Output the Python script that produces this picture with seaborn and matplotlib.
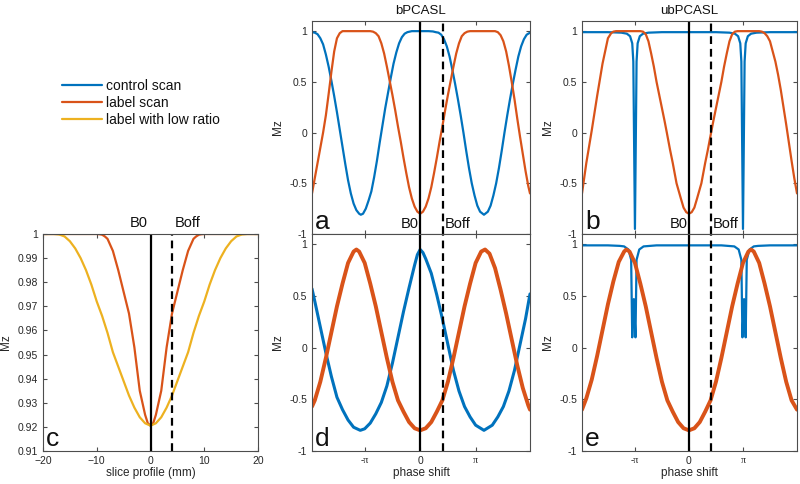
import numpy as np
import pandas as pd
import seaborn as sns
import matplotlib
matplotlib.use("Agg")
from matplotlib import pyplot as plt

BLUE = '#0072BD'
ORANGE = '#D95319'
YELLOW = '#EDB120'

# ---- panel a : bPCASL, x in units of pi ----
a_blue_x = [-1.95, -1.9, -1.85, -1.8, -1.75, -1.7, -1.65, -1.6, -1.55, -1.5, -1.45, -1.4, -1.35, -1.3,
            -1.25, -1.2, -1.15, -1.1, -1.07, -1.03, -0.98, -0.93, -0.88, -0.83, -0.78, -0.73, -0.68,
            -0.63, -0.58, -0.53, -0.48, -0.43, -0.38, -0.33, -0.28, -0.23, -0.15, 0.0, 0.15, 0.23, 0.28,
            0.33, 0.38, 0.43, 0.48, 0.53, 0.58, 0.63, 0.68, 0.73, 0.78, 0.83, 0.88, 0.93, 0.98, 1.03, 1.08,
            1.15, 1.22, 1.27, 1.32, 1.37, 1.42, 1.47, 1.52, 1.57, 1.62, 1.67, 1.72, 1.77, 1.82, 1.87, 1.92,
            1.98]
a_blue_y = [0.99, 0.985, 0.97, 0.93, 0.87, 0.77, 0.65, 0.51, 0.36, 0.2, 0.03, -0.14, -0.31, -0.47,
            -0.6, -0.7, -0.765, -0.8, -0.81, -0.8, -0.75, -0.67, -0.58, -0.44, -0.28, -0.1, 0.07,
            0.24, 0.39, 0.54, 0.68, 0.79, 0.88, 0.94, 0.975, 0.99, 1.0, 1.0, 1.0, 0.997, 0.99,
            0.985, 0.965, 0.92, 0.85, 0.75, 0.62, 0.48, 0.33, 0.17, 0.0, -0.18, -0.35, -0.5, -0.62, -0.72,
            -0.78, -0.81, -0.78, -0.72, -0.62, -0.5, -0.35, -0.18, 0.0, 0.17, 0.33, 0.48, 0.62, 0.75, 0.85,
            0.92, 0.965, 0.985]
a_orange_x = [-1.95, -1.9, -1.85, -1.8, -1.75, -1.7, -1.65, -1.6, -1.55, -1.5, -1.45, -1.4, -1.2, -1.0,
              -0.9, -0.85, -0.8, -0.75, -0.7, -0.65, -0.6, -0.55, -0.5, -0.45, -0.4, -0.35, -0.3, -0.25,
              -0.2, -0.15, -0.1, -0.05, 0.0, 0.05, 0.1, 0.15, 0.2, 0.25, 0.3, 0.35, 0.4, 0.45, 0.5, 0.55,
              0.6, 0.65, 0.7, 0.75, 0.8, 0.85, 0.9, 1.1, 1.35, 1.4, 1.45, 1.5, 1.55, 1.6, 1.65, 1.7, 1.75,
              1.8, 1.85, 1.9, 1.95, 1.98]
a_orange_y = [-0.6, -0.45, -0.3, -0.15, 0.0, 0.17, 0.38, 0.6, 0.8, 0.93, 0.98, 1.0, 1.0, 1.0,
              1.0, 0.995, 0.98, 0.95, 0.88, 0.78, 0.65, 0.51, 0.37, 0.22, 0.06, -0.09, -0.25, -0.4,
              -0.54, -0.65, -0.73, -0.78, -0.8, -0.78, -0.73, -0.65, -0.54, -0.4, -0.25, -0.09, 0.06, 0.22,
              0.37, 0.51, 0.65, 0.78, 0.88, 0.95, 0.98, 0.995, 1.0, 1.0, 1.0, 0.99, 0.96, 0.9, 0.8, 0.66,
              0.5, 0.33, 0.14, -0.04, -0.21, -0.38, -0.53, -0.6]

# ---- panel b : ubPCASL ----
b_blue_x = [-1.98, -1.5, -1.25, -1.15, -1.09, -1.05, -1.03, -1.0, -0.97, -0.95, -0.91, -0.85, -0.75, -0.5,
            0.0, 0.5, 0.75, 0.85, 0.91, 0.95, 0.97, 1.0, 1.03, 1.05, 1.09, 1.15, 1.25, 1.5, 2.0]
b_blue_y = [0.99, 0.99, 0.985, 0.975, 0.95, 0.88, 0.7, -0.95, 0.7, 0.88, 0.95, 0.975, 0.985, 0.99,
            0.99, 0.99, 0.985, 0.975, 0.95, 0.88, 0.7, -0.95, 0.7, 0.88, 0.95, 0.975, 0.985, 0.99, 0.99]
b_orange_x = [-1.98, -1.9, -1.8, -1.7, -1.6, -1.5, -1.44, -1.4, -1.35, -1.13, -0.9, -0.85, -0.8, -0.75,
              -0.7, -0.65, -0.6, -0.55, -0.5, -0.45, -0.41, -0.35, -0.3, -0.23, -0.15, -0.1, -0.05, 0.0,
              0.05, 0.1, 0.15, 0.23, 0.3, 0.35, 0.41, 0.45, 0.5, 0.55, 0.6, 0.65, 0.7, 0.75, 0.8, 0.85, 0.9,
              1.1, 1.3, 1.35, 1.4, 1.45, 1.5, 1.55, 1.6, 1.65, 1.7, 1.75, 1.8, 1.85, 1.9, 1.95, 2.0]
b_orange_y = [-0.6, -0.3, 0.02, 0.36, 0.68, 0.93, 0.98, 0.995, 1.0, 1.0, 1.0, 0.995, 0.97, 0.9,
              0.78, 0.65, 0.5, 0.37, 0.24, 0.11, 0.0, -0.17, -0.3, -0.5, -0.65, -0.74, -0.785, -0.8,
              -0.785, -0.74, -0.65, -0.5, -0.3, -0.17, 0.0, 0.11, 0.24, 0.37, 0.5, 0.65, 0.78, 0.9, 0.97, 0.995,
              1.0, 1.0, 1.0, 0.995, 0.98, 0.95, 0.9, 0.8, 0.7, 0.57, 0.42, 0.25, 0.08, -0.1, -0.28, -0.45, -0.6]

# ---- panel c : slice profile (mm) ----
c_label_x = [-20, -10, -9.5, -9, -8.5, -8, -7, -6, -5, -4, -3, -2, -1, -0.5, 0, 0.5, 1, 2, 3, 4, 5, 6, 7, 8,
             8.5, 9, 9.5, 10, 20]
c_label_y = [1.0, 1.0, 0.9999, 0.9997, 0.999, 0.998, 0.993, 0.985, 0.976, 0.967, 0.953, 0.935, 0.925,
             0.9215, 0.9205, 0.9215, 0.925, 0.935, 0.953, 0.967, 0.976, 0.985, 0.993, 0.998, 0.999,
             0.9997, 0.9999, 1.0, 1.0]
c_low_x = [-20, -18, -17, -16, -15, -14, -13, -12, -11, -10, -9, -8, -7, -6, -5, -4, -3, -2, -1, 0,
           1, 2, 3, 4, 5, 6, 7, 8, 9, 10, 11, 12, 13, 14, 15, 16, 17, 18, 20]
c_low_y = [1.0, 1.0, 0.9998, 0.999, 0.997, 0.994, 0.99, 0.985, 0.979, 0.972, 0.966, 0.959, 0.951, 0.945,
           0.939, 0.933, 0.928, 0.924, 0.9215, 0.9205, 0.9215, 0.924, 0.928, 0.933, 0.939, 0.945, 0.951,
           0.959, 0.966, 0.972, 0.979, 0.985, 0.99, 0.994, 0.997, 0.999, 0.9998, 1.0, 1.0]

# ---- panel d : bPCASL (bottom) ----
d_blue_x = [-1.95, -1.9, -1.8, -1.7, -1.6, -1.5, -1.4, -1.3, -1.2, -1.08, -1.0, -0.9, -0.8, -0.7, -0.6,
            -0.5, -0.4, -0.3, -0.2, -0.1, -0.05, 0.0, 0.05, 0.1, 0.2, 0.3, 0.4, 0.5, 0.6, 0.7, 0.8, 0.9, 1.0,
            1.15, 1.3, 1.4, 1.5, 1.6, 1.7, 1.8, 1.9, 1.98]
d_blue_y = [0.57, 0.45, 0.2, -0.05, -0.28, -0.48, -0.6, -0.7, -0.77, -0.8, -0.785, -0.73, -0.64, -0.53, -0.37,
            -0.15, 0.1, 0.35, 0.58, 0.8, 0.9, 0.95, 0.92, 0.86, 0.72, 0.51, 0.28, 0.03, -0.22, -0.42, -0.57,
            -0.67, -0.75, -0.8, -0.75, -0.67, -0.57, -0.42, -0.22, 0.03, 0.28, 0.52]
d_orange_x = [-1.95, -1.9, -1.8, -1.7, -1.6, -1.5, -1.4, -1.3, -1.2, -1.15, -1.1, -1.0, -0.9, -0.8, -0.7,
              -0.6, -0.5, -0.4, -0.3, -0.2, -0.1, 0.0, 0.1, 0.2, 0.3, 0.4, 0.5, 0.6, 0.7, 0.8, 0.9, 1.0, 1.1,
              1.17, 1.25, 1.35, 1.45, 1.55, 1.65, 1.75, 1.85, 1.95, 1.98]
d_orange_y = [-0.57, -0.51, -0.33, -0.1, 0.15, 0.4, 0.62, 0.82, 0.93, 0.95, 0.93, 0.82, 0.62, 0.4, 0.15,
              -0.1, -0.33, -0.51, -0.62, -0.72, -0.78, -0.8, -0.78, -0.72, -0.62, -0.51, -0.33, -0.1, 0.15,
              0.4, 0.62, 0.82, 0.93, 0.95, 0.91, 0.77, 0.56, 0.33, 0.08, -0.17, -0.39, -0.56, -0.6]

# ---- panel e : ubPCASL (bottom) ----
e_blue_x = [-1.98, -1.5, -1.28, -1.2, -1.12, -1.07, -1.05, -1.02, -0.99, -0.97, -0.92, -0.84, -0.6, 0.0,
            0.6, 0.84, 0.92, 0.97, 0.99, 1.02, 1.05, 1.07, 1.12, 1.2, 1.28, 1.5, 2.0]
e_blue_y = [0.99, 0.99, 0.985, 0.98, 0.95, 0.85, 0.1, 0.47, 0.1, 0.85, 0.95, 0.98, 0.99, 0.99,
            0.99, 0.98, 0.95, 0.85, 0.1, 0.47, 0.1, 0.85, 0.95, 0.98, 0.985, 0.99, 0.99]
e_orange_x = [-1.98, -1.9, -1.8, -1.7, -1.6, -1.5, -1.4, -1.3, -1.2, -1.16, -1.1, -1.0, -0.9, -0.8, -0.7,
              -0.6, -0.5, -0.4, -0.3, -0.2, -0.1, 0.0, 0.1, 0.2, 0.3, 0.4, 0.5, 0.6, 0.7, 0.8, 0.9, 1.0, 1.1,
              1.15, 1.2, 1.3, 1.4, 1.5, 1.6, 1.7, 1.8, 1.9, 2.0]
e_orange_y = [-0.6, -0.49, -0.31, -0.08, 0.17, 0.42, 0.64, 0.83, 0.93, 0.95, 0.93, 0.82, 0.62, 0.4, 0.15,
              -0.1, -0.33, -0.51, -0.62, -0.72, -0.78, -0.8, -0.78, -0.72, -0.62, -0.51, -0.33, -0.1, 0.15,
              0.4, 0.62, 0.82, 0.93, 0.95, 0.93, 0.82, 0.62, 0.4, 0.15, -0.1, -0.33, -0.51, -0.6]

phase_ticks = [-1, 0, 1]
phase_ticklabels = ['-\u03c0', '0', '\u03c0']
mz_ticks = [-1, -0.5, 0, 0.5, 1]
mz_ticklabels = ['-1', '-0.5', '0', '0.5', '1']
c_xticks = [-20, -10, 0, 10, 20]
c_yticks = [0.91, 0.92, 0.93, 0.94, 0.95, 0.96, 0.97, 0.98, 0.99, 1.0]
c_yticklabels = ['0.91', '0.92', '0.93', '0.94', '0.95', '0.96', '0.97', '0.98', '0.99', '1']

sns.set_theme(style="ticks", rc={
    'axes.edgecolor': '#4d4d4d', 'axes.linewidth': 0.8,
    'xtick.color': '#4d4d4d', 'ytick.color': '#4d4d4d',
    'xtick.labelcolor': '#262626', 'ytick.labelcolor': '#262626',
    'xtick.direction': 'in', 'ytick.direction': 'in',
    'xtick.major.size': 3, 'ytick.major.size': 3,
    'xtick.major.width': 0.8, 'ytick.major.width': 0.8,
    'xtick.top': True, 'ytick.right': True,
    'xtick.labelsize': 7.5, 'ytick.labelsize': 7.5,
    'axes.labelsize': 8.5, 'axes.titlesize': 9.5,
    'axes.labelcolor': '#262626', 'text.color': '#111111',
})
plt.rcParams['font.family'] = ['Liberation Sans', 'DejaVu Sans']

fig = plt.figure(figsize=(8, 4.84), dpi=100)
W, H = 800.0, 484.0


def box(x0, y0, x1, y1):
    return [x0 / W, 1 - y1 / H, (x1 - x0) / W, (y1 - y0) / H]


ax_a = fig.add_axes(box(312, 21, 530, 234))
ax_d = fig.add_axes(box(312, 234, 530, 451))
ax_b = fig.add_axes(box(582, 21, 797, 234))
ax_e = fig.add_axes(box(582, 234, 797, 451))
ax_c = fig.add_axes(box(43, 234, 258, 451))


def curve(ax, x, y, color, lw):
    sns.lineplot(x=x, y=y, ax=ax, color=color, linewidth=lw, estimator=None, sort=False)
    return ax.lines[-1]


def phase_panel(ax, xlim, boff, letter, bottom, labels_b0=True):
    ax.set_xlim(xlim)
    ax.set_ylim(-1, 1.1)
    ax.set_yticks(mz_ticks)
    ax.set_yticklabels(mz_ticklabels)
    ax.set_xticks(phase_ticks)
    if bottom:
        ax.set_xticklabels(phase_ticklabels)
        for t in ax.get_xticklabels():
            if t.get_text() != '0':
                t.set_fontfamily(['Liberation Serif', 'DejaVu Serif'])
                t.set_fontsize(7)
        ax.set_xlabel('phase shift', labelpad=1)
    else:
        ax.set_xticklabels([])
    ax.axvline(0, color='black', lw=1.6)
    ax.axvline(boff, color='black', lw=1.6, ls=(0, (3.5, 2.2)))
    ax.set_ylabel('Mz', labelpad=4)
    ax.text(0.015, 0.0, letter, transform=ax.transAxes, fontsize=19, va='bottom', ha='left')
    if labels_b0:
        ax.text(-0.03, -0.9, 'B0', fontsize=10.5, ha='right', va='center')
        ax.text(boff + 0.03, -0.9, 'Boff', fontsize=10.5, ha='left', va='center')


# panel a
h_blue = curve(ax_a, a_blue_x, a_blue_y, BLUE, 1.6)
curve(ax_a, a_orange_x, a_orange_y, ORANGE, 1.6)
phase_panel(ax_a, (-1.95, 1.98), 0.42, 'a', False)
ax_a.set_title('bPCASL', pad=5)

# panel b
curve(ax_b, b_blue_x, b_blue_y, BLUE, 1.6)
curve(ax_b, b_orange_x, b_orange_y, ORANGE, 1.6)
phase_panel(ax_b, (-1.98, 2.0), 0.41, 'b', False)
ax_b.set_title('ubPCASL', pad=5)

# panel d
curve(ax_d, d_blue_x, d_blue_y, BLUE, 2.2)
curve(ax_d, d_orange_x, d_orange_y, ORANGE, 2.8)
phase_panel(ax_d, (-1.95, 1.98), 0.42, 'd', True, labels_b0=False)

# panel e
curve(ax_e, e_blue_x, e_blue_y, BLUE, 1.6)
curve(ax_e, e_orange_x, e_orange_y, ORANGE, 2.8)
phase_panel(ax_e, (-1.98, 2.0), 0.41, 'e', True, labels_b0=False)

# panel c
h_label = curve(ax_c, c_label_x, c_label_y, ORANGE, 1.6)
h_low = curve(ax_c, c_low_x, c_low_y, YELLOW, 1.6)
ax_c.set_xlim(-20, 20)
ax_c.set_ylim(0.91, 1.0)
ax_c.set_xticks(c_xticks)
ax_c.set_yticks(c_yticks)
ax_c.set_yticklabels(c_yticklabels)
ax_c.axvline(0, color='black', lw=1.6)
ax_c.axvline(4, color='black', lw=1.6, ls=(0, (3.5, 2.2)))
ax_c.set_xlabel('slice profile (mm)', labelpad=1)
ax_c.set_ylabel('Mz', labelpad=4)
ax_c.text(0.015, 0.0, 'c', transform=ax_c.transAxes, fontsize=19, va='bottom', ha='left')
ax_c.text(-0.6, 1.0015, 'B0', fontsize=10.5, ha='right', va='bottom', clip_on=False)
ax_c.text(4.6, 1.0015, 'Boff', fontsize=10.5, ha='left', va='bottom', clip_on=False)

fig.legend([h_blue, h_label, h_low], ['control scan', 'label scan', 'label with low ratio'],
           loc='upper left', bbox_to_anchor=(62 / W, 1 - 79 / H), frameon=False,
           fontsize=10, handlelength=2.9, handletextpad=0.3, labelspacing=0.2,
           borderpad=0, borderaxespad=0)

fig.savefig('out.png', dpi=100)
